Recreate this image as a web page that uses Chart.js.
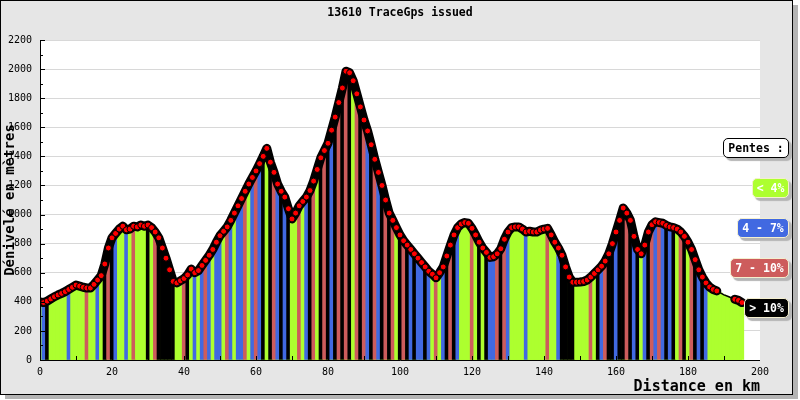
<!DOCTYPE html>
<html>
<head>
<meta charset="utf-8">
<script src="https://cdn.jsdelivr.net/npm/chart.js@4.4.1/dist/chart.umd.min.js"></script>
<style>
  html, body { margin: 0; padding: 0; background: #fff; }
  #wrap { position: relative; width: 800px; height: 400px; }
  .pill {
    position: absolute; height: 20px; box-sizing: border-box;
    font: bold 11.5px "DejaVu Sans Mono", monospace; line-height: 18px;
    text-align: center; color: #fff; border-radius: 5px;
    border: 1px solid #f4efcf; box-shadow: 3px 3px 1px #b5b5b5;
  }
</style>
</head>
<body>
<div id="wrap">
  <canvas id="profile" width="800" height="400"></canvas>
  <div class="pill" style="left:723px;top:138px;width:66px;background:#fff;color:#000;border-color:#000">Pentes :</div>
  <div class="pill" style="left:752px;top:178px;width:37px;background:#adff2f">&lt; 4%</div>
  <div class="pill" style="left:737px;top:218px;width:52px;background:#4169e1">4 - 7%</div>
  <div class="pill" style="left:730px;top:258px;width:59px;background:#cd5c5c">7 - 10%</div>
  <div class="pill" style="left:744px;top:298px;width:45px;background:#000">&gt; 10%</div>
</div>
<script>
// Profil altimétrique
(function () {
  "use strict";

  const chartTitle = "13610 TraceGps issued";

  // distance (km)
  const distances = [
    0, 1, 2, 3, 4, 5, 6, 7, 8, 9,
    10, 11, 12, 13, 14, 15, 16, 17, 18, 19,
    20, 21, 22, 23, 24, 25, 26, 27, 28, 29,
    30, 31, 32, 33, 34, 35, 36, 37, 38, 39,
    40, 41, 42, 43, 44, 45, 46, 47, 48, 49,
    50, 51, 52, 53, 54, 55, 56, 57, 58, 59,
    60, 61, 62, 63, 64, 65, 66, 67, 68, 69,
    70, 71, 72, 73, 74, 75, 76, 77, 78, 79,
    80, 81, 82, 83, 84, 85, 86, 87, 88, 89,
    90, 91, 92, 93, 94, 95, 96, 97, 98, 99,
    100, 101, 102, 103, 104, 105, 106, 107, 108, 109,
    110, 111, 112, 113, 114, 115, 116, 117, 118, 119,
    120, 121, 122, 123, 124, 125, 126, 127, 128, 129,
    130, 131, 132, 133, 134, 135, 136, 137, 138, 139,
    140, 141, 142, 143, 144, 145, 146, 147, 148, 149,
    150, 151, 152, 153, 154, 155, 156, 157, 158, 159,
    160, 161, 162, 163, 164, 165, 166, 167, 168, 169,
    170, 171, 172, 173, 174, 175, 176, 177, 178, 179,
    180, 181, 182, 183, 184, 185, 186, 187, 188, 189,
    190, 191, 192, 193, 194, 195,
  ];

  // altitude (m)
  const elevations = [
    400, 395, 405, 420, 435, 447, 458, 470, 485, 500,
    515, 508, 500, 495, 495, 520, 550, 580, 660, 770,
    840, 870, 900, 920, 895, 900, 920, 915, 928, 920,
    928, 910, 880, 840, 770, 700, 620, 540, 530, 545,
    560, 585, 625, 600, 615, 650, 685, 720, 760, 810,
    855, 885, 915, 960, 1010, 1060, 1110, 1160, 1210, 1255,
    1300, 1350, 1400, 1455, 1360, 1290, 1210, 1160, 1120, 1040,
    970, 1010, 1060, 1090, 1120, 1165, 1230, 1310, 1390, 1440,
    1490, 1580, 1670, 1770, 1870, 1985, 1975, 1920, 1830, 1740,
    1650, 1575, 1480, 1380, 1290, 1200, 1100, 1010, 960, 910,
    860, 820, 790, 760, 730, 700, 670, 640, 610, 590,
    565, 600, 640, 715, 790, 860, 910, 935, 945, 940,
    905, 860, 810, 770, 740, 705, 710, 730, 765, 830,
    880, 910, 915, 915, 900, 880, 885, 880, 880, 893,
    900, 905, 860, 810, 770, 720, 640, 570, 535, 535,
    536, 540, 550, 570, 595, 620, 645, 680, 730, 800,
    880, 960, 1045, 1010, 960, 850, 760, 730, 790, 880,
    930, 950, 945, 940, 925, 915, 910, 900, 880, 850,
    810, 760, 690, 620, 570, 530, 502, 485, 475, 462,
    448, 438, 428, 418, 410, 395,
  ];

  // classe de pente : 0 = < 4%, 1 = 4-7%, 2 = 7-10%, 3 = > 10%
  const slopeClass = [
    0, 1, 3, 0, 0, 0, 0, 0, 1, 0,
    0, 0, 0, 2, 0, 0, 1, 0, 3, 2,
    3, 1, 0, 0, 1, 0, 2, 0, 0, 0,
    3, 0, 2, 3, 3, 3, 3, 3, 0, 0,
    2, 3, 0, 1, 0, 1, 2, 1, 0, 1,
    1, 0, 2, 1, 0, 1, 1, 2, 0, 1,
    2, 1, 3, 0, 3, 2, 1, 3, 1, 3,
    0, 0, 2, 0, 1, 3, 2, 0, 3, 2,
    3, 1, 3, 2, 3, 2, 3, 0, 2, 3,
    2, 1, 3, 2, 1, 3, 2, 3, 2, 0,
    3, 2, 3, 1, 3, 1, 1, 3, 1, 0,
    2, 0, 1, 3, 2, 3, 1, 0, 0, 0,
    2, 0, 3, 0, 3, 1, 1, 2, 3, 2,
    1, 0, 0, 0, 0, 1, 0, 0, 0, 0,
    0, 2, 0, 0, 1, 3, 3, 3, 3, 0,
    0, 0, 0, 2, 0, 3, 1, 2, 3, 3,
    1, 3, 3, 2, 3, 1, 3, 0, 1, 3,
    2, 1, 2, 1, 3, 1, 3, 0, 2, 3,
    0, 2, 3, 1, 3, 1, 0, 0, 0, 0,
    0, 0, 0, 0, 0, 0,
  ];

  const slopeColors = ["#adff2f", "#4169e1", "#cd5c5c", "#000000"];

  // portion du tracé sans points relevés
  const sparseFrom = 188;
  const sparseTo = 193;

  const points = distances.map((d, i) => ({ x: d, y: elevations[i] }));

  const framePlugin = {
    id: "frame",
    beforeDraw(chart) {
      const { ctx, chartArea: a } = chart;
      ctx.save();
      ctx.fillStyle = "#fff";
      ctx.fillRect(0, 0, chart.width, chart.height);
      ctx.fillStyle = "#b4b4b4";
      ctx.fillRect(5, 5, 793, 394);
      ctx.fillStyle = "#e6e6e6";
      ctx.fillRect(0, 0, 793, 395);
      ctx.strokeStyle = "#000";
      ctx.lineWidth = 1;
      ctx.strokeRect(0.5, 0.5, 792, 394);
      ctx.fillStyle = "#fff";
      ctx.fillRect(a.left, a.top, a.right - a.left, a.bottom - a.top);
      ctx.fillStyle = "#000";
      ctx.font = "bold 11.5px 'DejaVu Sans Mono', monospace";
      ctx.textAlign = "center";
      ctx.textBaseline = "middle";
      ctx.fillText(chartTitle, 400, 13);
      ctx.restore();
    },
    afterDatasetsDraw(chart) {
      const { ctx, chartArea: a, scales } = chart;
      ctx.save();
      ctx.strokeStyle = "#000";
      ctx.lineWidth = 1;
      ctx.beginPath();
      ctx.moveTo(a.left + 0.5, a.top);
      ctx.lineTo(a.left + 0.5, a.bottom + 0.5);
      ctx.lineTo(a.right, a.bottom + 0.5);
      for (let v = 0; v <= 2200; v += 100) {
        const y = Math.round(scales.y.getPixelForValue(v)) + 0.5;
        ctx.moveTo(a.left, y);
        ctx.lineTo(a.left + (v % 200 === 0 ? 5 : 3), y);
      }
      for (let d = 10; d < 200; d += 10) {
        const x = Math.round(scales.x.getPixelForValue(d)) + 0.5;
        ctx.moveTo(x, a.bottom);
        ctx.lineTo(x, a.bottom - 4);
      }
      ctx.stroke();
      ctx.restore();
    },
  };

  const inSparse = (x) => x > sparseFrom && x < sparseTo;

  Chart.defaults.font.family = "'DejaVu Sans Mono', monospace";
  Chart.defaults.color = "#000";

  const ctx = document.getElementById("profile").getContext("2d");
  new Chart(ctx, {
    data: {
      datasets: [
        {
          type: "line",
          label: "Altitude",
          data: points,
          order: 0,
          borderColor: "#000",
          borderWidth: 9,
          borderCapStyle: "round",
          borderJoinStyle: "round",
          tension: 0,
          segment: {
            borderWidth: (c) =>
              c.p0.parsed.x >= sparseFrom && c.p1.parsed.x <= sparseTo ? 1.5 : 9,
          },
          pointRadius: (c) => (inSparse(c.raw.x) ? 0 : 3),
          pointBackgroundColor: "#ff0000",
          pointBorderColor: "#000",
          pointBorderWidth: 1,
        },
        {
          type: "bar",
          label: "Pente",
          data: points,
          order: 1,
          backgroundColor: slopeClass.map((c) => slopeColors[c]),
          borderWidth: 0,
          barPercentage: 1,
          categoryPercentage: 1,
        },
        {
          type: "line",
          label: "Fond",
          data: points,
          order: 2,
          borderWidth: 0,
          pointRadius: 0,
          backgroundColor: slopeColors[0],
          fill: "origin",
        },
      ],
    },
    options: {
      responsive: false,
      animation: false,
      layout: { padding: { top: 40, right: 40, left: 0, bottom: 0 } },
      plugins: {
        legend: { display: false },
        tooltip: { enabled: false },
        title: { display: false },
      },
      scales: {
        x: {
          type: "linear",
          min: 0,
          max: 200,
          offset: false,
          ticks: { stepSize: 20, padding: 6, font: { size: 10 }, maxRotation: 0 },
          grid: { display: false, drawTicks: false, offset: false },
          border: { display: false },
          title: {
            display: true,
            text: "Distance en km",
            align: "end",
            font: { size: 15, weight: "bold" },
            padding: { top: 0, bottom: 4 },
          },
          afterFit: (s) => {
            s.height = 40;
          },
        },
        y: {
          min: 0,
          max: 2200,
          ticks: {
            stepSize: 200,
            padding: 8,
            font: { size: 10 },
            callback: (v) => String(v),
          },
          grid: { color: "#d8d8d8", drawTicks: false },
          border: { display: false },
          title: {
            display: true,
            text: "Dénivelé en mètres",
            font: { size: 14, weight: "bold" },
            padding: { top: 2, bottom: 0 },
          },
          afterFit: (s) => {
            s.width = 40;
          },
        },
      },
    },
    plugins: [framePlugin],
  });
})();
</script>
</body>
</html>
